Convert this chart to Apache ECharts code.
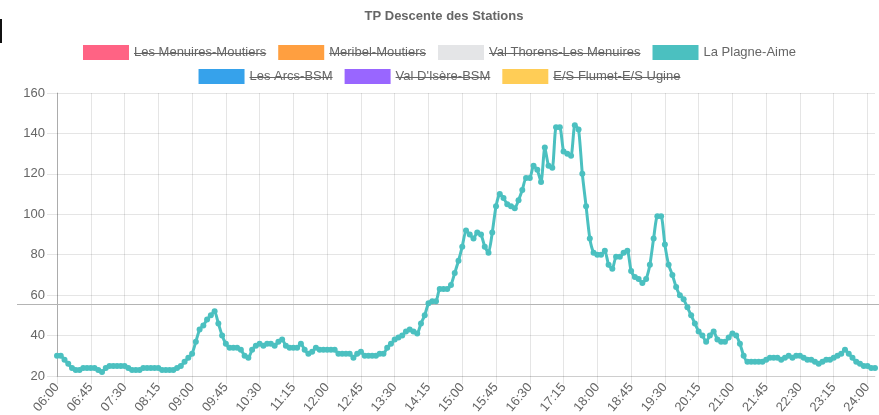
<!DOCTYPE html>
<html>
<head>
<meta charset="utf-8">
<title>TP Descente des Stations</title>
<script src="https://cdn.jsdelivr.net/npm/echarts@6/dist/echarts.min.js"></script>
<style>
  html, body { margin: 0; padding: 0; background: #fff; }
  #mychart { width: 879px; height: 415px; }
</style>
</head>
<body>
<div id="mychart"></div>
<script>
// stations (legend order) and their colours
const stationNames = [
  'Les Menuires-Moutiers', 'Meribel-Moutiers', 'Val Thorens-Les Menuires', 'La Plagne-Aime',
  'Les Arcs-BSM', "Val D'Isère-BSM", 'E/S Flumet-E/S Ugine'
];
const stationColors = ['#ff6384', '#ff9f40', '#e4e5e7', '#4bc0c0', '#36a2eb', '#9966ff', '#ffcd56'];
// only La Plagne-Aime is switched on in the picture
const hiddenStations = [
  'Les Menuires-Moutiers', 'Meribel-Moutiers', 'Val Thorens-Les Menuires',
  'Les Arcs-BSM', "Val D'Isère-BSM", 'E/S Flumet-E/S Ugine'
];

// one reading every 5 minutes, 06:00 -> 24:10
const timeLabels = [];
for (let m = 6 * 60; m <= 24 * 60 + 10; m += 5) {
  const h = Math.floor(m / 60), mm = m % 60;
  timeLabels.push((h < 10 ? '0' : '') + h + ':' + (mm < 10 ? '0' : '') + mm);
}

// La Plagne-Aime
const plagneAime = [
  30, 30, 28, 26, 24, 23, 23, 24, 24, 24,
  24, 23, 22, 24, 25, 25, 25, 25, 25, 24,
  23, 23, 23, 24, 24, 24, 24, 24, 23, 23,
  23, 23, 24, 25, 27, 29, 31, 37, 43, 45,
  48, 50, 52, 46, 40, 36, 34, 34, 34, 33,
  30, 29, 33, 35, 36, 35, 36, 36, 35, 37,
  38, 35, 34, 34, 34, 36, 33, 31, 32, 34,
  33, 33, 33, 33, 33, 31, 31, 31, 31, 29,
  31, 32, 30, 30, 30, 30, 31, 31, 34, 36,
  38, 39, 40, 42, 43, 42, 41, 46, 50, 56,
  57, 57, 63, 63, 63, 65, 71, 77, 84, 92,
  90, 88, 91, 90, 84, 81, 91, 104, 110, 108,
  105, 104, 103, 107, 112, 118, 118, 124, 122, 116,
  133, 124, 123, 143, 143, 131, 130, 129, 144, 142,
  120, 104, 88, 81, 80, 80, 82, 75, 73, 79,
  79, 81, 82, 72, 69, 68, 66, 68, 75, 88,
  99, 99, 85, 75, 70, 64, 60, 58, 54, 50,
  46, 42, 40, 37, 40, 42, 38, 37, 37, 39,
  41, 40, 36, 30, 27, 27, 27, 27, 27, 28,
  29, 29, 29, 28, 29, 30, 29, 30, 30, 29,
  28, 28, 27, 26, 27, 28, 28, 29, 30, 31,
  33, 31, 29, 27, 26, 25, 25, 24, 24
];

const yTicks = { min: 20, max: 160, step: 20 };

const font = "'Liberation Sans', Arial, sans-serif";
const gridColor = 'rgba(0,0,0,0.1)';

const legendCommon = {
  left: 'center',
  padding: 0,
  icon: 'rect',
  itemWidth: 46,
  itemHeight: 15,
  itemGap: 12,
  selectedMode: false,
  textStyle: { color: '#666', fontSize: 13, fontFamily: font }
};

const option = {
  animation: false,
  color: stationColors,
  title: {
    text: 'TP Descente des Stations',
    left: 444,
    textAlign: 'center',
    top: 10,
    padding: 0,
    textStyle: { color: '#666', fontSize: 13, fontWeight: 'bold', fontFamily: font }
  },
  legend: [
    Object.assign({ top: 45, data: stationNames.slice(0, 4) }, legendCommon),
    Object.assign({ top: 69, data: stationNames.slice(4) }, legendCommon)
  ],
  grid: { left: 57, right: 4, top: 93, bottom: 39, containLabel: false, outerBoundsMode: 'none' },
  xAxis: {
    type: 'category',
    boundaryGap: false,
    data: timeLabels,
    axisLine: { show: true, lineStyle: { color: gridColor } },
    axisTick: { show: true, interval: 8, length: 8, lineStyle: { color: gridColor } },
    splitLine: { show: true, interval: 8, lineStyle: { color: gridColor } },
    axisLabel: { interval: 8, rotate: 50, margin: 9, color: '#666', fontSize: 13, fontFamily: font }
  },
  yAxis: {
    type: 'value',
    min: yTicks.min,
    max: yTicks.max,
    interval: yTicks.step,
    axisLine: { show: true, lineStyle: { color: 'rgba(0,0,0,0.25)' } },
    axisTick: { show: true, length: 10, lineStyle: { color: gridColor } },
    splitLine: { show: true, lineStyle: { color: gridColor } },
    axisLabel: { margin: 12, color: '#666', fontSize: 13, fontFamily: font }
  },
  series: stationNames.map((name, i) => ({
    name: name,
    type: 'line',
    data: name === 'La Plagne-Aime' ? plagneAime : [],
    smooth: 0.2,
    symbol: 'circle',
    symbolSize: 6,
    showAllSymbol: true,
    lineStyle: { width: 3, color: stationColors[i] },
    itemStyle: { color: stationColors[i] }
  })),
  graphic: [
    // thin rule across the screenshot and the dark mark at its left edge
    { type: 'line', shape: { x1: 17, y1: 304.5, x2: 879, y2: 304.5 }, style: { stroke: '#b4b4b4', lineWidth: 1 }, z: 1 },
    { type: 'rect', shape: { x: 0, y: 19, width: 2, height: 24 }, style: { fill: '#111' } }
  ]
};

const myChart = echarts.init(document.getElementById('mychart'));
myChart.setOption(option);

// strike through the legend text of the hidden stations, like the original
const zr = myChart.getZr();
zr.storage.getDisplayList(true).forEach(el => {
  if (!el.style || typeof el.style.text !== 'string') return;
  if (hiddenStations.indexOf(el.style.text) < 0) return;
  const r = el.getBoundingRect().clone();
  const m = el.getComputedTransform();
  if (m) r.applyTransform(m);
  const y = Math.round(r.y + r.height / 2) + 0.5;
  zr.add(new echarts.graphic.Line({
    shape: { x1: r.x, y1: y, x2: r.x + r.width, y2: y },
    style: { stroke: '#666', lineWidth: 1 },
    z: 100
  }));
});
</script>
</body>
</html>
